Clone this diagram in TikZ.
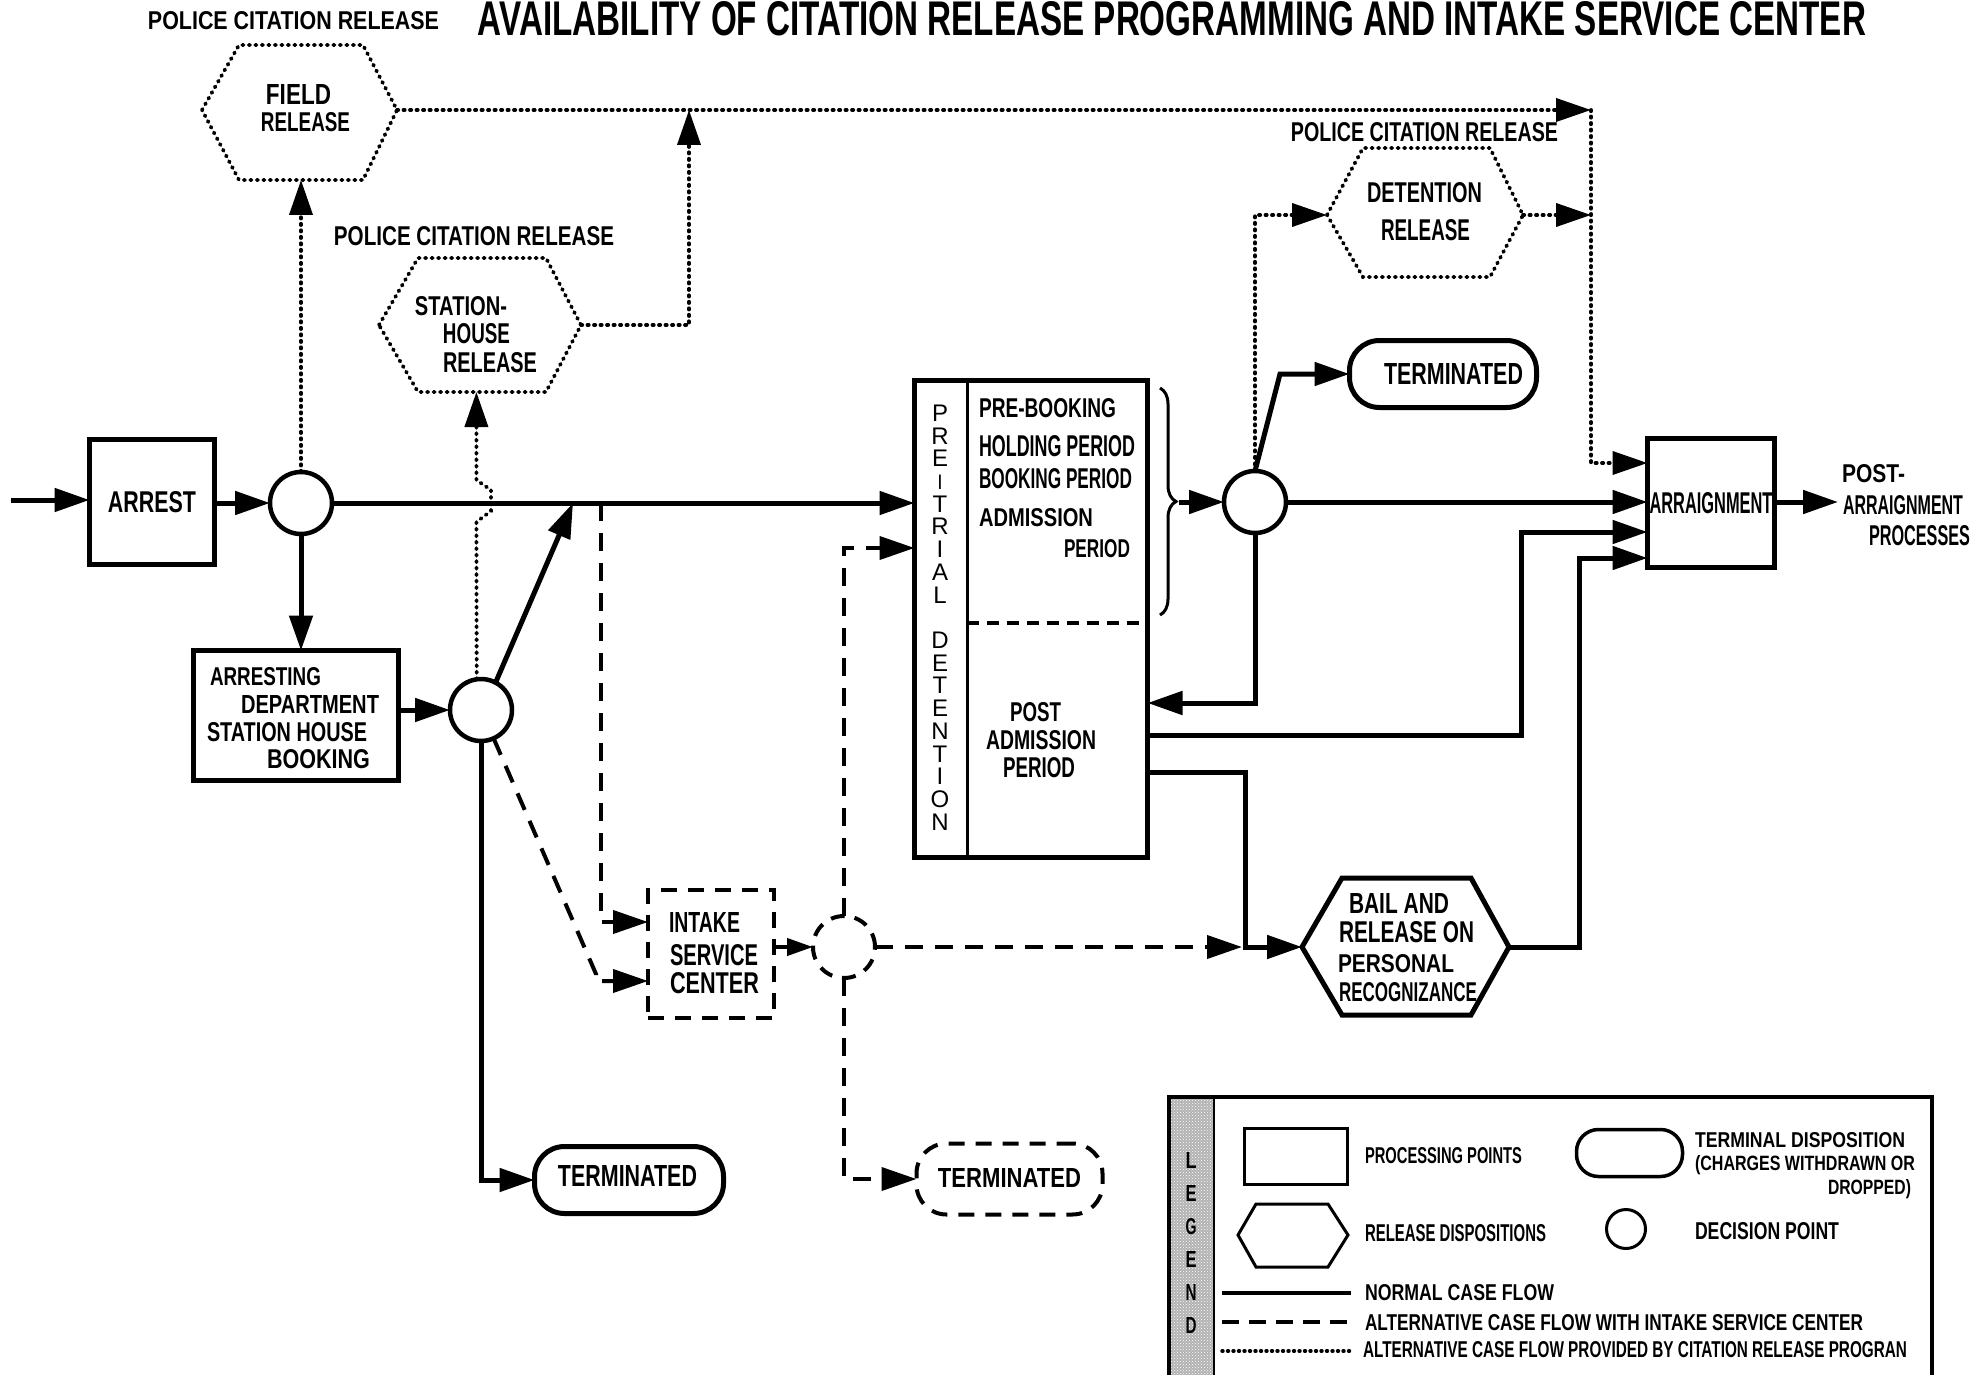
\documentclass[tikz,border=0pt]{standalone}
\usepackage{fontspec}
\usepackage{graphicx}
\setmainfont{Liberation Sans}
\usetikzlibrary{arrows.meta,decorations.pathreplacing,patterns}
\newcommand\lb[3]{\resizebox{#1pt}{#2pt}{\bfseries #3}}
\newcommand\lr[3]{\resizebox{#1pt}{#2pt}{#3}}
\begin{document}
\begin{tikzpicture}[x=1pt,y=-1pt,
 every node/.style={inner sep=0pt,outer sep=0pt},
 ln/.style={line width=5pt},
 dashln/.style={line width=4pt,dash pattern=on 18pt off 12pt},
 dotln/.style={line width=3.8pt,dash pattern=on 1.2pt off 5.3pt,line cap=round},
 arr/.style={-{Triangle[length=35pt,width=23pt]}},
 sarr/.style={-{Triangle[length=26pt,width=17pt]}},
 procbox/.style={draw,rectangle,line width=5pt},
 decis/.style={draw,circle,line width=4.5pt,minimum size=62pt},
 termbox/.style={draw,rectangle,line width=5pt,rounded corners=30pt},
]
\useasboundingbox (0,0) rectangle (1984,1375);
\fill[white] (0,0) rectangle (1984,1375);

% level helpers
\coordinate (y463) at (0,463);
\coordinate (y532) at (0,532);
\coordinate (y548) at (0,548);
\coordinate (y558) at (0,558);
\coordinate (y703) at (0,703);
\coordinate (y735) at (0,735);
\coordinate (y772) at (0,772);
\coordinate (y922) at (0,922);
\coordinate (y981) at (0,981);

% titles
\node (title) at (1172,19) {\resizebox{1388pt}{34pt}{\fontseries{b}\selectfont AVAILABILITY OF CITATION RELEASE PROGRAMMING AND INTAKE SERVICE CENTER}};
\node (pcr1) at (293.5,21) {\lb{291}{18}{POLICE CITATION RELEASE}};
\node (pcr2) at (474,236.5) {\lb{280}{19}{POLICE CITATION RELEASE}};
\node (pcr3) at (1424.5,132.5) {\lb{267}{19}{POLICE CITATION RELEASE}};

% field release hexagon
\coordinate (fL) at (202,110); \coordinate (fTL) at (239,45); \coordinate (fTR) at (363,45);
\coordinate (fR) at (397,110); \coordinate (fBR) at (363,180); \coordinate (fBL) at (239,180);
\coordinate (fB) at (299,180);
\draw[dotln] (fL) -- (fTL) -- (fTR) -- (fR) -- (fBR) -- (fBL) -- cycle;
\node (fieldT1) at (298.5,95) {\lb{65}{20}{FIELD}};
\node (fieldT2) at (305.5,122) {\lb{89}{19}{RELEASE}};

% station house release hexagon
\coordinate (sL) at (379,325); \coordinate (sTL) at (418,258); \coordinate (sTR) at (546,258);
\coordinate (sR) at (581,325); \coordinate (sBR) at (546,392); \coordinate (sBL) at (418,392);
\coordinate (sB) at (477,392);
\draw[dotln] (sL) -- (sTL) -- (sTR) -- (sR) -- (sBR) -- (sBL) -- cycle;
\node (stT1) at (461,306.5) {\lb{92}{19}{STATION-}};
\node (stT2) at (476.5,334) {\lb{67}{20}{HOUSE}};
\node (stT3) at (490,362.5) {\lb{94}{20}{RELEASE}};

% detention release hexagon
\coordinate (dL) at (1327,215); \coordinate (dTL) at (1363,148); \coordinate (dTR) at (1490,148);
\coordinate (dR) at (1523,215); \coordinate (dBR) at (1490,277); \coordinate (dBL) at (1363,277);
\draw[dotln] (dL) -- (dTL) -- (dTR) -- (dR) -- (dBR) -- (dBL) -- cycle;
\node (detT1) at (1424.5,193) {\lb{115}{20}{DETENTION}};
\node (detT2) at (1425.5,230.5) {\lb{89}{21}{RELEASE}};

% bail hexagon
\coordinate (bL) at (1302,947); \coordinate (bTL) at (1342,878); \coordinate (bTR) at (1471,878);
\coordinate (bR) at (1509,947); \coordinate (bBR) at (1471,1015); \coordinate (bBL) at (1342,1015);
\draw[ln] (bL) -- (bTL) -- (bTR) -- (bR) -- (bBR) -- (bBL) -- cycle;
\node (bailT1) at (1399,903) {\lb{100}{20}{BAIL AND}};
\node (bailT2) at (1406.5,932.5) {\lb{135}{21}{RELEASE ON}};
\node (bailT3) at (1396,964) {\lb{116}{18}{PERSONAL}};
\node (bailT4) at (1408,992.5) {\lb{138}{19}{RECOGNIZANCE}};

% processing boxes
\node[procbox,minimum width=125pt,minimum height=125pt] (arrest) at (152,502) {\lb{88}{21}{ARREST}};
\node[procbox,minimum width=205pt,minimum height=130pt] (dept) at (296,715.5) {};
\node[anchor=west] (deptT1) at (210,677) {\lb{111}{18}{ARRESTING}};
\node[anchor=west] (deptT2) at (241,704) {\lb{138}{18}{DEPARTMENT}};
\node[anchor=west] (deptT3) at (207,732.5) {\lb{160}{19}{STATION HOUSE}};
\node[anchor=west] (deptT4) at (267,759.5) {\lb{103}{19}{BOOKING}};

\node[draw,rectangle,line width=4pt,dash pattern=on 16pt off 11pt,minimum width=126pt,minimum height=128pt] (isc) at (711,954) {};
\node[anchor=west] (iscT1) at (669,922) {\lb{71}{20}{INTAKE}};
\node[anchor=west] (iscT2) at (670,955.5) {\lb{88}{21}{SERVICE}};
\node[anchor=west] (iscT3) at (670,983.5) {\lb{89}{21}{CENTER}};

\node[procbox,minimum width=233pt,minimum height=477pt] (pre) at (1031,619) {};
\coordinate (pdT) at (967,378); \coordinate (pdB) at (967,860);
\draw[line width=3pt] (pdT) -- (pdB);
\coordinate (pdL) at (967,623); \coordinate (pdR) at (1150,623);
\draw[line width=4pt,dash pattern=on 12pt off 8pt] (pdL) -- (pdR);
\node[align=center,font=\fontsize{24}{22.72}\selectfont] (ptd) at (940,617.5)
 {P\\R\\E\\\hspace*{5.7pt}\rotatebox{90}{\fontsize{26}{26}\selectfont –}\\T\\R\\I\\A\\L\\\mbox{}\\D\\E\\T\\E\\N\\T\\I\\O\\N};
\node[anchor=west] (preT1) at (979,408.5) {\lb{137}{19}{PRE-BOOKING}};
\node[anchor=west] (preT2) at (979,446.5) {\lb{156}{21}{HOLDING PERIOD}};
\node[anchor=west] (preT3) at (979,479) {\lb{153}{20}{BOOKING PERIOD}};
\node[anchor=west] (preT4) at (979,518) {\lb{114}{18}{ADMISSION}};
\node[anchor=west] (preT5) at (1064,549) {\lb{66}{18}{PERIOD}};
\node (postT1) at (1035.5,712.5) {\lb{51}{19}{POST}};
\node (postT2) at (1041,740.5) {\lb{110}{19}{ADMISSION}};
\node (postT3) at (1039,768) {\lb{72}{20}{PERIOD}};

\node[procbox,minimum width=127pt,minimum height=129pt] (arraign) at (1711,503) {\lb{123}{21}{ARRAIGNMENT}};
\node[anchor=west] (paT1) at (1842,474) {\lb{63}{18}{POST-}};
\node[anchor=west] (paT2) at (1843,505.5) {\lb{120}{19}{ARRAIGNMENT}};
\node[anchor=west] (paT3) at (1869,536) {\lb{101}{20}{PROCESSES}};

% terminal dispositions
\node[termbox,minimum width=189pt,minimum height=67pt] (term1) at (629,1180) {};
\node (term1T) at (627.5,1175.5) {\lb{139}{21}{TERMINATED}};
\node[termbox,line width=4pt,dash pattern=on 16pt off 11pt,minimum width=186pt,minimum height=71pt] (term2) at (1009.5,1179) {};
\node (term2T) at (1009.5,1177.5) {\lb{143}{19}{TERMINATED}};
\node[termbox,minimum width=187pt,minimum height=67pt] (term3) at (1443,374) {};
\node (term3T) at (1453.5,373.5) {\lb{139}{21}{TERMINATED}};

% decision points
\node[decis] (c1) at (301,503) {};
\node[decis] (c2) at (481,710) {};
\node[decis,line width=4pt,dash pattern=on 14pt off 10pt] (c3) at (844,947) {};
\node[decis] (c4) at (1255,502) {};

% normal flow
\coordinate (start) at (11,500);
\draw[ln,arr] (start) -- (arrest.west |- start);
\draw[ln,arr] (arrest.east |- c1.west) -- (c1.west);
\draw[ln,arr] (c1.east) -- (pre.west |- c1.east);
\draw[ln,arr] (c1.south) -- (c1.south |- dept.north);
\draw[ln,arr] (dept.east |- c2.west) -- (c2.west);
\coordinate (j1) at (573,503);
\draw[ln,arr] (c2.62) -- (j1);
\draw[ln,arr] (c2.south) -- (c2.south |- term1.west) -- (term1.west);
\coordinate (brA) at (1160,388); \coordinate (brB) at (1160,615); \coordinate (brT) at (1179,502);
\draw[line width=3pt,decorate,decoration={brace,amplitude=16pt}] (brA) -- (brB);
\draw[ln,arr] (brT) -- (c4.west);
\draw[ln,arr] (c4.east) -- (arraign.west |- c4.east);
\coordinate (t3k) at (1280,374);
\draw[ln,arr] (c4.north) -- (t3k) -- (term3.west);
\draw[ln,arr] (c4.south) -- (c4.south |- y703) -- (pre.east |- y703);
\coordinate (k1) at (1521,735); \coordinate (k2) at (1521,532);
\draw[ln,arr] (pre.east |- y735) -- (k1) -- (k2) -- (arraign.west |- y532);
\coordinate (k3) at (1245,772); \coordinate (k4) at (1245,947);
\draw[ln,arr] (pre.east |- y772) -- (k3) -- (k4) -- (bL);
\coordinate (k5) at (1579,947); \coordinate (k6) at (1579,558);
\draw[ln,arr] (bR) -- (k5) -- (k6) -- (arraign.west |- y558);
\coordinate (postTip) at (1838,502);
\draw[ln,arr] (arraign.east |- postTip) -- (postTip);

% intake service center flow
\coordinate (j2) at (601,503);
\draw[dashln,arr] (j2) -- (j2 |- y922) -- (isc.west |- y922);
\coordinate (k7) at (596,974);
\draw[dashln,arr] (c2.-66) -- (k7) -- (k7 |- y981) -- (isc.west |- y981);
\draw[ln,line width=4pt,sarr] (isc.east |- c3.west) -- (c3.west);
\draw[dashln,arr] (c3.north) -- (c3.north |- y548) -- (pre.west |- y548);
\draw[dashln,arr] (c3.south) -- (c3.south |- term2.west) -- (term2.west);
\coordinate (bj) at (1242,947);
\draw[dashln,arr] (c3.east) -- (bj);

% citation release flow
\draw[dotln,arr] (c1.north) -- (c1.north |- fB);
\coordinate (jb1) at (476.4,522); \coordinate (jb2) at (491,511); \coordinate (jb3) at (491,490); \coordinate (jb4) at (476.4,480);
\draw[dotln,arr] (c2.98) -- (jb1) -- (jb2) -- (jb3) -- (jb4) -- (jb4 |- sB);
\coordinate (jf) at (689,110); \coordinate (k8) at (689,325);
\draw[dotln,arr] (sR) -- (k8) -- (jf);
\coordinate (corner) at (1591,110);
\draw[dotln,arr] (fR) -- (corner);
\draw[dotln,arr] (corner) -- (corner |- y463) -- (arraign.west |- y463);
\draw[dotln,arr] (c4.north) -- (c4.north |- dL) -- (dL);
\draw[dotln,arr] (dR) -- (corner |- dR);

% legend
\fill[black!30] (1169,1097) rectangle (1214,1385);
\fill[pattern=crosshatch dots,pattern color=white] (1169,1097) rectangle (1214,1385);
\draw[line width=4pt] (1169,1385) -- (1169,1097) -- (1932,1097) -- (1932,1385);
\draw[line width=2.5pt] (1214,1097) -- (1214,1385);
\node[align=center,font=\fontsize{20}{33}\selectfont] (legT) at (1191,1242.5)
 {\lb{11}{16}{L}\\\lb{11}{16}{E}\\\lb{11}{16}{G}\\\lb{11}{16}{E}\\\lb{11}{16}{N}\\\lb{11}{16}{D}};
\node[draw,rectangle,line width=3.5pt,minimum width=103pt,minimum height=56pt] (lgbox) at (1296,1156.5) {};
\node[anchor=west] (lgboxT) at (1365,1156) {\lb{157}{16}{PROCESSING POINTS}};
\node[draw,rectangle,line width=3.5pt,rounded corners=22pt,minimum width=106pt,minimum height=47pt] (lgterm) at (1629.5,1153) {};
\node[anchor=west] (lgtermT1) at (1695,1140.5) {\lb{210}{15}{TERMINAL DISPOSITION}};
\node[anchor=west] (lgtermT2) at (1695,1165) {\lb{220}{15}{(CHARGES WITHDRAWN OR}};
\node[anchor=west] (lgtermT3) at (1828,1189.5) {\lb{83}{15}{DROPPED)}};
\coordinate (lhL) at (1238,1235); \coordinate (lhTL) at (1256,1204); \coordinate (lhTR) at (1328,1204);
\coordinate (lhR) at (1348,1235); \coordinate (lhBR) at (1328,1267); \coordinate (lhBL) at (1256,1267);
\draw[line width=3pt] (lhL) -- (lhTL) -- (lhTR) -- (lhR) -- (lhBR) -- (lhBL) -- cycle;
\node[anchor=west] (lghexT) at (1365,1233.5) {\lb{181}{17}{RELEASE DISPOSITIONS}};
\node[draw,circle,line width=3pt,minimum size=39pt] (lgc) at (1626,1229) {};
\node[anchor=west] (lgcT) at (1695,1231.5) {\lb{144}{17}{DECISION POINT}};
\coordinate (lg1a) at (1222,1293); \coordinate (lg1b) at (1351,1293);
\coordinate (lg2a) at (1222,1322); \coordinate (lg2b) at (1351,1322);
\coordinate (lg3a) at (1222,1351); \coordinate (lg3b) at (1351,1351);
\draw[line width=4.5pt] (lg1a) -- (lg1b);
\draw[line width=4pt,dash pattern=on 17pt off 10pt] (lg2a) -- (lg2b);
\draw[line width=3.4pt,dash pattern=on 1pt off 4.5pt,line cap=round] (lg3a) -- (lg3b);
\node[anchor=west] (lgl1) at (1365,1293) {\lb{189}{16}{NORMAL CASE FLOW}};
\node[anchor=west] (lgl2) at (1365,1323) {\lb{498}{16}{ALTERNATIVE CASE FLOW WITH INTAKE SERVICE CENTER}};
\node[anchor=west] (lgl3) at (1363,1350) {\lb{544}{16}{ALTERNATIVE CASE FLOW PROVIDED BY CITATION RELEASE PROGRAN}};
\end{tikzpicture}
\end{document}
